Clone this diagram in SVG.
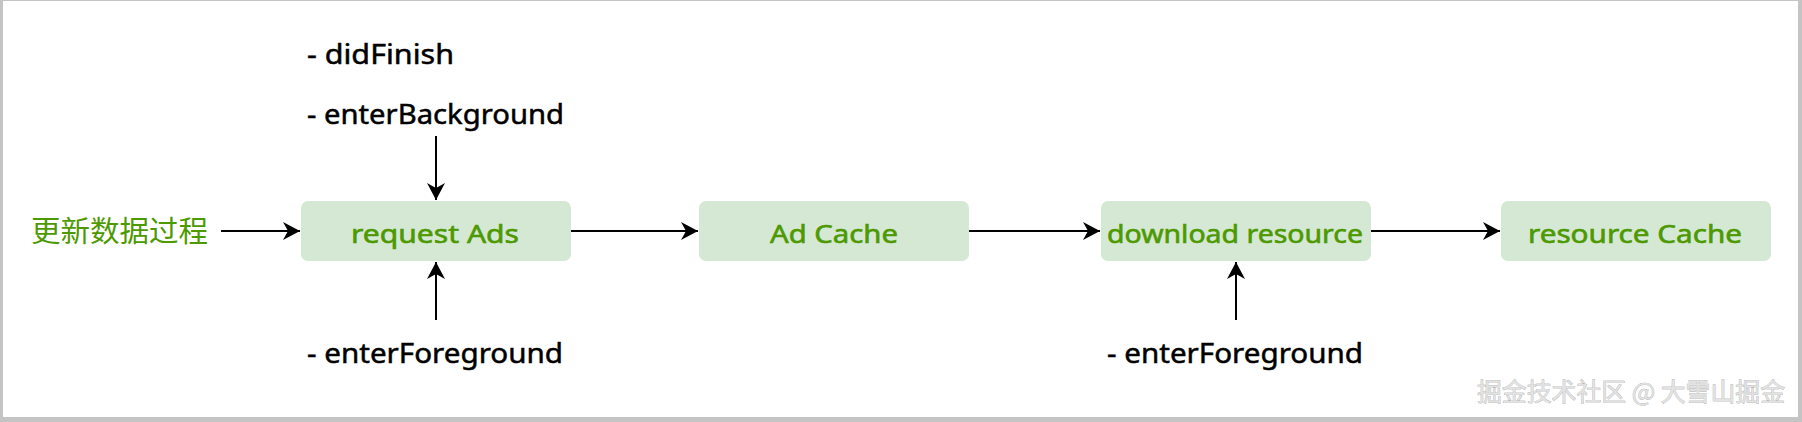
<svg xmlns="http://www.w3.org/2000/svg" width="1802" height="422" viewBox="0 0 1802 422">
<style>
.box{fill:#d5e8d4;stroke:none}
.lbl{font-family:"Noto Sans","Liberation Sans",sans-serif;font-size:26px;fill:#4d9900;stroke:#4d9900;stroke-width:0.6px}
.cjk{font-family:"Noto Sans CJK SC",sans-serif;font-size:29px;fill:#4d9900}
.note{font-family:"Noto Sans","Liberation Sans",sans-serif;font-size:28px;fill:#000;stroke:#000;stroke-width:0.5px}
.wm{font-family:"Noto Sans CJK SC",sans-serif;font-size:25px;fill:#e2e2e2;stroke:#8f8f8f;stroke-width:0.5px;paint-order:stroke}
.conn{stroke:#000;stroke-width:2;fill:none;marker-end:url(#arr)}
</style>
<defs>
<marker id="arr" markerUnits="userSpaceOnUse" markerWidth="20" markerHeight="20" viewBox="-18 -10 20 20" refX="0" refY="0" orient="auto">
<path d="M0,0 L-17,-9 L-12,0 L-17,9 Z" fill="#000"/>
</marker>
</defs>
<rect x="0" y="0" width="1802" height="422" fill="#fff"/>
<g id="frame" fill="#c4c4c4">
<rect x="0" y="0" width="1802" height="1"/>
<rect x="0" y="0" width="3" height="422"/>
<rect x="1798" y="0" width="4" height="422"/>
<rect x="0" y="417" width="1802" height="5"/>
</g>
<g id="connectors">
<line class="conn" x1="221" y1="231" x2="300" y2="231"/>
<line class="conn" x1="571" y1="231" x2="698" y2="231"/>
<line class="conn" x1="969" y1="231" x2="1100" y2="231"/>
<line class="conn" x1="1371" y1="231" x2="1500" y2="231"/>
<line class="conn" x1="436" y1="136" x2="436" y2="200"/>
<line class="conn" x1="436" y1="320" x2="436" y2="262"/>
<line class="conn" x1="1236" y1="320" x2="1236" y2="262"/>
</g>
<g id="source">
<text class="cjk" x="31" y="242" textLength="177" lengthAdjust="spacingAndGlyphs">更新数据过程</text>
</g>
<g id="node-request-ads">
<rect class="box" x="301" y="201" width="270" height="60" rx="7"/>
<text class="lbl" x="351" y="243" textLength="168" lengthAdjust="spacingAndGlyphs">request Ads</text>
</g>
<g id="node-ad-cache">
<rect class="box" x="699" y="201" width="270" height="60" rx="7"/>
<text class="lbl" x="770" y="243" textLength="128" lengthAdjust="spacingAndGlyphs">Ad Cache</text>
</g>
<g id="node-download-resource">
<rect class="box" x="1101" y="201" width="270" height="60" rx="7"/>
<text class="lbl" x="1107" y="243" textLength="256" lengthAdjust="spacingAndGlyphs">download resource</text>
</g>
<g id="node-resource-cache">
<rect class="box" x="1501" y="201" width="270" height="60" rx="7"/>
<text class="lbl" x="1528" y="243" textLength="214" lengthAdjust="spacingAndGlyphs">resource Cache</text>
</g>
<g id="note-top">
<text class="note" x="307" y="64" textLength="147" lengthAdjust="spacingAndGlyphs">- didFinish</text>
<text class="note" x="307" y="124" textLength="257" lengthAdjust="spacingAndGlyphs">- enterBackground</text>
</g>
<g id="note-bottom-left">
<text class="note" x="307" y="363" textLength="256" lengthAdjust="spacingAndGlyphs">- enterForeground</text>
</g>
<g id="note-bottom-right">
<text class="note" x="1107" y="363" textLength="256" lengthAdjust="spacingAndGlyphs">- enterForeground</text>
</g>
<g id="watermark">
<text class="wm" x="1477" y="401" textLength="308" lengthAdjust="spacingAndGlyphs">掘金技术社区 @ 大雪山掘金</text>
</g>
</svg>
